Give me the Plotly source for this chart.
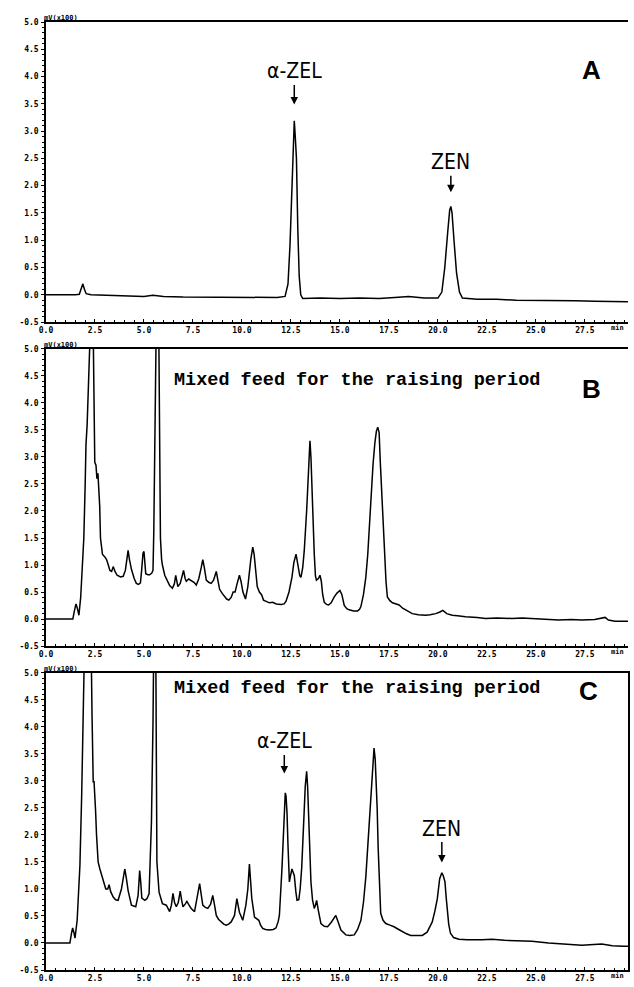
import plotly.graph_objects as go

# ---- Panel A: standard (t in min, signal in mV x100)
a_t = [0.0, 0.5, 1.0, 1.5, 1.7, 1.8, 1.88, 1.96, 2.05, 2.3, 3.0, 4.0, 5.0, 5.45, 6.0, 7.0, 8.0, 9.0, 10.0,
       11.0, 11.8, 12.2, 12.35, 12.45, 12.55, 12.62, 12.67, 12.72, 12.78, 12.85, 12.92, 13.0, 13.1,
       14.0, 15.0, 16.0, 17.0, 17.8, 18.5, 19.3, 20.0, 20.2, 20.35, 20.5, 20.6, 20.66, 20.72, 20.82,
       20.95, 21.1, 21.25, 22.0, 23.0, 24.0, 25.0, 26.0, 27.0, 28.0, 29.0, 29.77]
a_y = [0.0, 0.0, -0.01, 0.0, 0.01, 0.1, 0.2, 0.1, 0.02, 0.0, -0.01, -0.02, -0.03, -0.01, -0.03, -0.04, -0.04, -0.05, -0.05,
       -0.04, -0.05, -0.03, 0.2, 0.9, 2.1, 3.0, 3.19, 2.9, 2.5, 1.2, 0.35, 0.0, -0.07,
       -0.06, -0.07, -0.06, -0.07, -0.05, -0.03, -0.06, -0.06, 0.05, 0.5, 1.15, 1.55, 1.62, 1.5, 1.0,
       0.4, 0.05, -0.06, -0.08, -0.08, -0.1, -0.1, -0.11, -0.11, -0.12, -0.12, -0.13]

# ---- Panel B: mixed feed (blank)
b_t = [0, 1.0, 1.37, 1.45, 1.53, 1.6, 1.68, 1.77, 1.85, 1.93, 2.0, 2.04, 2.1, 2.15, 2.2, 2.3, 2.4, 2.45, 2.49,
       2.55, 2.6, 2.65, 2.71, 2.74, 2.78, 2.83, 2.88, 3.0, 3.09, 3.18, 3.26, 3.35, 3.43, 3.52, 3.63, 3.8, 3.94,
       4.05, 4.12, 4.19, 4.26, 4.36, 4.5, 4.61, 4.72, 4.82, 4.88, 4.95, 5.0, 5.05, 5.09, 5.2, 5.29, 5.4, 5.46,
       5.5, 5.55, 5.58, 5.63, 5.75, 5.8, 5.84, 5.9, 5.94, 6.06, 6.2, 6.31, 6.45, 6.55, 6.62, 6.68, 6.73, 6.85,
       6.95, 7.02, 7.1, 7.16, 7.28, 7.4, 7.55, 7.67, 7.8, 7.92, 8.0, 8.08, 8.18, 8.3, 8.43, 8.55, 8.69, 8.78,
       8.86, 9.0, 9.11, 9.22, 9.33, 9.45, 9.55, 9.65, 9.75, 9.87, 9.95, 10.05, 10.18, 10.3, 10.45, 10.55,
       10.62, 10.69, 10.78, 10.89, 11.0, 11.1, 11.23, 11.4, 11.57, 11.75, 12.0, 12.15, 12.25, 12.4, 12.55,
       12.65, 12.76, 12.83, 12.88, 12.95, 13.01, 13.1, 13.18, 13.25, 13.3, 13.35, 13.42, 13.47, 13.52, 13.57,
       13.64, 13.69, 13.75, 13.8, 13.9, 13.98, 14.05, 14.12, 14.2, 14.32, 14.42, 14.55, 14.71, 14.85, 15.0,
       15.1, 15.22, 15.35, 15.47, 15.7, 15.9, 16.0, 16.07, 16.2, 16.32, 16.42, 16.52, 16.6, 16.69, 16.78,
       16.86, 16.93, 17.0, 17.06, 17.13, 17.2, 17.27, 17.35, 17.42, 17.55, 17.68, 17.85, 18.02, 18.2, 18.36,
       18.5, 18.69, 19.0, 19.37, 19.6, 19.89, 20.1, 20.25, 20.45, 20.73, 21.0, 21.41, 22.0, 22.43, 23.0,
       23.78, 24.3, 24.8, 25.5, 26.16, 26.8, 27.34, 28.0, 28.53, 28.7, 29.04, 29.77]
b_y = [0, 0, 0.0, 0.15, 0.28, 0.2, 0.07, 0.4, 0.9, 1.5, 2.5, 3.23, 3.6, 4.4, 5.6, 5.8, 5.6, 3.5, 2.9,
       2.85, 2.6, 2.7, 2.3, 2.1, 1.5, 1.3, 1.2, 1.15, 1.1, 1.0, 0.9, 0.88, 0.97, 0.88, 0.81, 0.78, 0.79,
       0.9, 1.1, 1.27, 1.1, 0.92, 0.75, 0.66, 0.64, 0.67, 0.9, 1.22, 1.25, 1.0, 0.84, 0.82, 0.82, 0.85, 0.9,
       1.6, 3.36, 4.5, 5.6, 5.6, 3.6, 1.5, 1.1, 1.0, 0.81, 0.7, 0.62, 0.57, 0.65, 0.81, 0.7, 0.6, 0.66,
       0.8, 0.9, 0.75, 0.7, 0.74, 0.72, 0.68, 0.63, 0.75, 0.95, 1.1, 0.95, 0.72, 0.68, 0.66, 0.72, 0.88, 0.7,
       0.55, 0.47, 0.41, 0.37, 0.35, 0.4, 0.5, 0.5, 0.65, 0.81, 0.7, 0.5, 0.37, 0.6, 1.1, 1.33,
       1.2, 0.9, 0.6, 0.5, 0.45, 0.35, 0.33, 0.3, 0.31, 0.28, 0.27, 0.28, 0.33, 0.5, 0.77,
       1.05, 1.2, 1.05, 0.95, 0.8, 0.77, 0.95, 1.27, 1.6, 2.0, 2.38, 3.0, 3.3, 3.0, 2.38,
       1.82, 1.2, 0.8, 0.72, 0.75, 0.81, 0.7, 0.45, 0.31, 0.27, 0.26, 0.3, 0.41, 0.48, 0.53,
       0.45, 0.25, 0.19, 0.17, 0.15, 0.15, 0.18, 0.23, 0.45, 0.77, 1.2, 1.82, 2.35, 2.87, 3.25,
       3.48, 3.55, 3.45, 2.9, 2.31, 1.7, 1.2, 0.7, 0.41, 0.34, 0.3, 0.28, 0.26, 0.2, 0.17,
       0.13, 0.1, 0.08, 0.07, 0.08, 0.1, 0.13, 0.16, 0.1, 0.07, 0.06, 0.04, 0.03, 0.01, 0.02,
       0.01, 0.02, 0.01, 0.0, -0.02, -0.01, -0.02, -0.01, 0.03, -0.02, -0.04, -0.04]

# ---- Panel C: mixed feed (spiked)
c_t = [0, 1.0, 1.22, 1.3, 1.36, 1.42, 1.48, 1.59, 1.66, 1.73, 1.82, 1.9, 1.97, 2.1, 2.3, 2.35, 2.37, 2.41,
       2.45, 2.49, 2.53, 2.58, 2.66, 2.75, 2.83, 2.92, 3.05, 3.15, 3.22, 3.3, 3.43, 3.55, 3.68, 3.85, 3.95,
       4.02, 4.1, 4.19, 4.36, 4.58, 4.7, 4.78, 4.84, 4.89, 5.04, 5.15, 5.26, 5.32, 5.38, 5.46, 5.5, 5.6,
       5.63, 5.66, 5.77, 5.94, 6.14, 6.31, 6.4, 6.48, 6.56, 6.65, 6.75, 6.85, 6.92, 6.99, 7.1, 7.19, 7.3,
       7.41, 7.58, 7.7, 7.84, 7.92, 8.0, 8.13, 8.26, 8.4, 8.51, 8.6, 8.69, 8.8, 8.94, 9.07, 9.2, 9.32,
       9.45, 9.55, 9.62, 9.74, 9.8, 9.87, 10.04, 10.2, 10.3, 10.38, 10.45, 10.5, 10.64, 10.75, 10.86,
       10.95, 11.06, 11.2, 11.4, 11.6, 11.74, 11.85, 11.91, 12.04, 12.1, 12.16, 12.21, 12.25, 12.3, 12.35,
       12.42, 12.48, 12.55, 12.62, 12.67, 12.75, 12.81, 12.9, 12.97, 13.05, 13.1, 13.17, 13.23, 13.3,
       13.35, 13.4, 13.46, 13.52, 13.6, 13.69, 13.75, 13.81, 13.9, 14.03, 14.2, 14.37, 14.55, 14.7, 14.79,
       14.9, 15.05, 15.3, 15.5, 15.73, 15.9, 16.07, 16.2, 16.32, 16.42, 16.49, 16.58, 16.66, 16.74, 16.8,
       16.83, 16.9, 16.95, 17.02, 17.08, 17.2, 17.34, 17.55, 17.76, 18.0, 18.18, 18.4, 18.61, 18.9, 19.2,
       19.45, 19.71, 19.85, 19.97, 20.09, 20.2, 20.27, 20.36, 20.42, 20.47, 20.55, 20.64, 20.8, 21.07,
       21.5, 22.25, 22.76, 23.4, 24.12, 24.8, 25.65, 26.4, 27.34, 28.36, 28.9, 29.47, 29.77]
c_y = [0, 0, 0.0, 0.18, 0.28, 0.2, 0.09, 0.42, 0.9, 1.43, 2.72, 4.13, 5.6, 5.8, 5.6, 4.2, 3.33, 2.97,
       3.0, 2.54, 2.45, 1.99, 1.5, 1.37, 1.28, 1.19, 1.0, 1.0, 1.08, 0.95, 0.85, 0.8, 0.79, 1.0, 1.2,
       1.37, 1.2, 0.97, 0.7, 0.67, 0.88, 1.34, 1.1, 0.83, 0.79, 0.82, 0.91, 1.5, 2.23, 4.07, 5.6, 5.6,
       2.6, 1.5, 0.94, 0.73, 0.7, 0.58, 0.7, 0.92, 0.75, 0.67, 0.75, 0.96, 0.8, 0.67, 0.72, 0.77, 0.7,
       0.64, 0.58, 0.8, 1.1, 0.9, 0.7, 0.66, 0.64, 0.72, 0.88, 0.7, 0.51, 0.44, 0.39, 0.35, 0.33, 0.35,
       0.39, 0.45, 0.51, 0.82, 0.7, 0.57, 0.42, 0.7, 1.0, 1.46, 1.1, 0.83, 0.48, 0.45, 0.42,
       0.33, 0.27, 0.25, 0.24, 0.25, 0.28, 0.4, 0.51, 1.37, 2.0, 2.48, 2.78, 2.72, 2.4, 1.8,
       1.13, 1.25, 1.37, 1.3, 1.25, 0.95, 0.79, 0.8, 1.0, 1.4, 1.74, 2.4, 2.9, 3.18,
       2.9, 2.36, 1.7, 1.13, 0.8, 0.64, 0.7, 0.79, 0.6, 0.36, 0.31, 0.3, 0.38, 0.47, 0.51,
       0.4, 0.24, 0.15, 0.14, 0.15, 0.25, 0.42, 0.75, 1.22, 1.8, 2.26, 2.8, 3.24, 3.61, 3.4,
       3.18, 2.5, 1.77, 1.1, 0.55, 0.42, 0.36, 0.33, 0.3, 0.25, 0.21, 0.17, 0.14, 0.14, 0.14,
       0.2, 0.39, 0.6, 0.82, 1.19, 1.3, 1.25, 1.13, 0.85, 0.58, 0.35, 0.18, 0.1, 0.07,
       0.06, 0.06, 0.07, 0.05, 0.04, 0.03, 0.0, -0.02, -0.04, -0.02, -0.05, -0.06, -0.06]

x_ticks = [0.0, 2.5, 5.0, 7.5, 10.0, 12.5, 15.0, 17.5, 20.0, 22.5, 25.0, 27.5]
x_tick_labels = ["0.0", "2.5", "5.0", "7.5", "10.0", "12.5", "15.0", "17.5", "20.0", "22.5", "25.0", "27.5"]
y_ticks = [-0.5, 0.0, 0.5, 1.0, 1.5, 2.0, 2.5, 3.0, 3.5, 4.0, 4.5, 5.0]
y_tick_labels = ["-0.5", "0.0", "0.5", "1.0", "1.5", "2.0", "2.5", "3.0", "3.5", "4.0", "4.5", "5.0"]
panel_letters = ["A", "B", "C"]
sample_text = "Mixed feed for the raising period"

H = 987
W = 634
top_px, bot_px = 22, 973
left_px, right_px = 46, 630
span = bot_px - top_px
def py(p):
    return (bot_px - p) / span
def px(p):
    return (p - left_px) / (right_px - left_px)

domains = [(py(323), 1.0), (py(648), py(350)), (0.0, py(675))]

fig = go.Figure()
series = [(a_t, a_y), (b_t, b_y), (c_t, c_y)]
tickfont = dict(family="DejaVu Sans Mono, monospace", size=8, color="black", weight="bold")
for i, (t, y) in enumerate(series):
    n = "" if i == 0 else str(i + 1)
    fig.add_trace(go.Scatter(x=t, y=y, mode="lines", line=dict(color="black", width=1.5),
                             xaxis="x" + n, yaxis="y" + n, showlegend=False, hoverinfo="skip"))
    fig.layout["xaxis" + n] = dict(
        domain=[0, 1], anchor="y" + n, range=[0, 29.7], showgrid=False, zeroline=False,
        showline=True, linecolor="black", linewidth=1.5, mirror=True,
        tickmode="array", tickvals=x_ticks, ticktext=x_tick_labels,
        ticks="inside", ticklen=3, tickcolor="black", tickwidth=1,
        minor=dict(dtick=0.5, ticks="inside", ticklen=2, tickcolor="black"),
        tickfont=tickfont, ticklabelstandoff=0)
    fig.layout["yaxis" + n] = dict(
        domain=list(domains[i]), anchor="x" + n, range=[-0.5, 5.0], showgrid=False, zeroline=False,
        showline=True, linecolor="black", linewidth=1.5, mirror=(i == 2),
        tickmode="array", tickvals=y_ticks, ticktext=y_tick_labels,
        ticks="outside", ticklen=3, tickcolor="black", tickwidth=1,
        minor=dict(dtick=0.1, ticks="outside", ticklen=2, tickcolor="black"),
        tickfont=tickfont, ticklabelstandoff=1)

ann = []
label_font = dict(family="Liberation Sans Narrow, DejaVu Sans Condensed, sans-serif", size=21, color="black")
mono_font = dict(family="Liberation Mono, DejaVu Sans Mono, monospace", size=18.5, color="black", weight="bold")
letter_font = dict(family="Liberation Sans, Arial, sans-serif", size=26, color="black")
small_font = dict(family="DejaVu Sans Mono, monospace", size=7, color="black", weight="bold")

for i in range(3):
    n = "" if i == 0 else str(i + 1)
    ann.append(dict(text="mV(x100)", xref="x" + n + " domain", yref="y" + n + " domain",
                    x=0, y=1, xanchor="left", yanchor="bottom", xshift=-4, yshift=-2,
                    showarrow=False, font=small_font))
    ann.append(dict(text="min", xref="x" + n + " domain", yref="y" + n + " domain",
                    x=1, y=0, xanchor="right", yanchor="top", xshift=-2, yshift=0,
                    showarrow=False, font=small_font))

# panel letters
for letter, (xp, ypix) in zip(panel_letters, [(605, 53), (605, 390), (602, 710)]):
    ann.append(dict(text="<b>" + letter + "</b>", xref="paper", yref="paper",
                    x=px(xp), y=py(ypix), showarrow=False, font=letter_font))

for ypix in (382, 703):
    ann.append(dict(text=sample_text, xref="paper", yref="paper", x=px(358), y=py(ypix),
                    showarrow=False, font=mono_font))

peak_labels = [
    ("α-ZEL", "x", "y", 12.67, 3.49, -33),
    ("ZEN", "x", "y", 20.66, 1.88, -30),
    ("α-ZEL", "x3", "y3", 12.16, 3.14, -32),
    ("ZEN", "x3", "y3", 20.2, 1.49, -34),
]
for txt, xr, yr, xv, yv, ay in peak_labels:
    ann.append(dict(text=txt, xref=xr, yref=yr, x=xv, y=yv, ax=0, ay=ay, showarrow=True,
                    arrowhead=2, arrowsize=1, arrowwidth=1.5, arrowcolor="black", standoff=0,
                    font=label_font))

fig.update_layout(width=W, height=H,
                  margin=dict(l=left_px, r=W - right_px, t=top_px, b=H - bot_px),
                  paper_bgcolor="white", plot_bgcolor="white", annotations=ann, showlegend=False)
fig.write_html("out.html", config={"displayModeBar": False},
               post_script="document.body.style.margin='0';document.body.style.overflow='hidden';")
